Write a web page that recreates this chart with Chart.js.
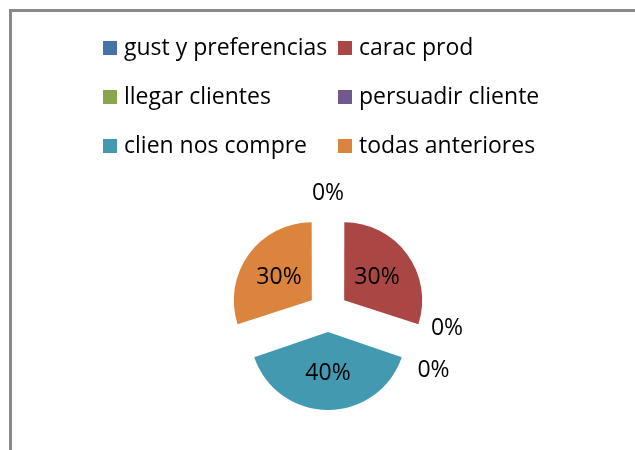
<!DOCTYPE html>
<html><head><meta charset="utf-8">
<script src="https://cdn.jsdelivr.net/npm/chart.js@4/dist/chart.umd.min.js"></script>
<style>
html,body{margin:0;padding:0;background:#fff;}
#wrap{position:relative;width:635px;height:450px;overflow:hidden;font-family:'Open Sans',sans-serif;}
#frame{position:absolute;left:9px;top:9px;width:700px;height:500px;border-left:3px solid #898989;border-top:3px solid #898989;}
canvas{position:absolute;left:0;top:0;}
#legend{position:absolute;left:103px;top:22px;display:grid;grid-template-columns:235px auto;grid-auto-rows:49.2px;}
.item{display:flex;align-items:center;font-size:23px;line-height:27px;color:#000;white-space:nowrap;}
.sw{width:14px;height:14px;margin-right:7px;flex:none;position:relative;top:1px;}
</style></head>
<body>
<div id="wrap">
<div id="frame"></div>
<canvas id="c" width="635" height="450"></canvas>
<div id="legend"></div>
</div>
<script>
const categories = ['gust y preferencias','carac prod','llegar clientes','persuadir cliente','clien nos compre','todas anteriores'];
const values = [0, 30, 0, 0, 40, 30];
const colors = ['#4572A7','#AA4643','#89A54E','#71588F','#4299B0','#DB843D'];

// legend as real HTML text
const lg = document.getElementById('legend');
categories.forEach((c, i) => {
  const it = document.createElement('div'); it.className = 'item';
  const sw = document.createElement('span'); sw.className = 'sw'; sw.style.background = colors[i];
  const tx = document.createElement('span'); tx.textContent = c;
  it.appendChild(sw); it.appendChild(tx); lg.appendChild(it);
});

// keep exploded slices at equal radius (Excel-style explosion)
const origDraw = Chart.ArcElement.prototype.draw;
Chart.ArcElement.prototype.draw = function (ctx) {
  const off = (this.options.offset || 0) / 4;
  const circ = this.endAngle - this.startAngle;
  const fix = 1 - Math.sin(Math.min(Math.PI, circ || 0));
  const r = this.outerRadius;
  this.outerRadius = r - off * fix;
  origDraw.call(this, ctx);
  this.outerRadius = r;
};

const labelPlugin = {
  id: 'pctLabels',
  afterDatasetsDraw(chart) {
    const ctx = chart.ctx;
    const meta = chart.getDatasetMeta(0);
    const data = chart.data.datasets[0].data;
    const total = data.reduce((a, b) => a + b, 0);
    const groups = {};
    meta.data.forEach((el, i) => {
      if (data[i] === 0) {
        const k = el.startAngle.toFixed(4);
        (groups[k] = groups[k] || []).push(i);
      }
    });
    ctx.save();
    ctx.fillStyle = '#000';
    ctx.font = '23px "Open Sans", sans-serif';
    ctx.textAlign = 'center';
    ctx.textBaseline = 'middle';
    meta.data.forEach((el, i) => {
      const R = el.outerRadius;
      const off = (el.options.offset || 0) / 4;
      let ang = (el.startAngle + el.endAngle) / 2;
      let dist;
      if (data[i] > 0) {
        dist = off + 0.52 * R;
      } else {
        const g = groups[el.startAngle.toFixed(4)];
        const pos = g.indexOf(i) - (g.length - 1) / 2;
        ang += pos * 21 * Math.PI / 180;
        dist = R + 42;
      }
      const txt = Math.round(data[i] / total * 100) + '%';
      ctx.fillText(txt, el.x + Math.cos(ang) * dist, el.y + Math.sin(ang) * dist + 1);
    });
    ctx.restore();
  }
};

new Chart(document.getElementById('c'), {
  type: 'pie',
  data: {
    labels: categories,
    datasets: [{
      data: values,
      backgroundColor: colors,
      borderWidth: 0,
      offset: 80
    }]
  },
  options: {
    responsive: false,
    animation: false,
    layout: { padding: { left: 210, right: 189, top: 194, bottom: 20 } },
    plugins: { legend: { display: false }, tooltip: { enabled: false } }
  },
  plugins: [labelPlugin]
});
</script>
</body></html>
